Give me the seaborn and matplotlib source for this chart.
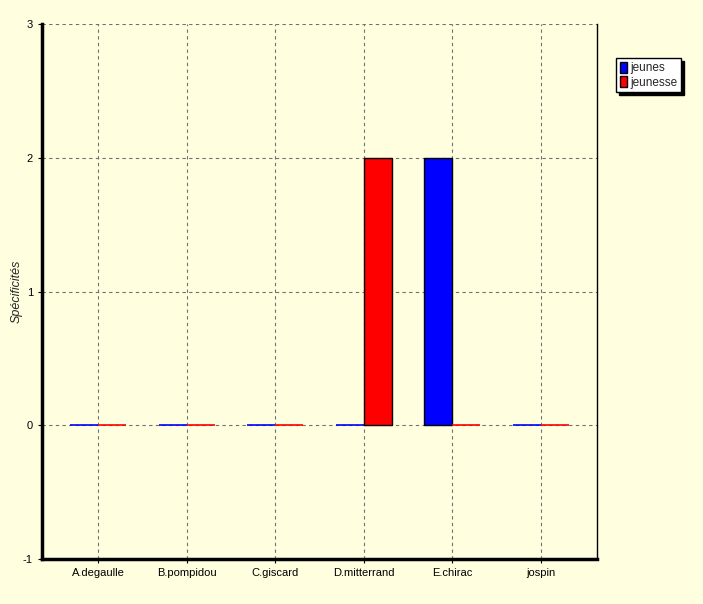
import pandas as pd
import seaborn as sns
import matplotlib.pyplot as plt
from matplotlib.patches import Patch

# data
auteurs = ['A.degaulle', 'B.pompidou', 'C.giscard', 'D.mitterrand', 'E.chirac', 'jospin']
jeunes = [0, 0, 0, 0, 2, 0]
jeunesse = [0, 0, 0, 2, 0, 0]
series = ['jeunes', 'jeunesse']
couleurs = ['#0000ff', '#ff0000']

df = pd.DataFrame({'auteur': auteurs * 2,
                   'mot': ['jeunes'] * len(auteurs) + ['jeunesse'] * len(auteurs),
                   'val': jeunes + jeunesse})

sns.set_style('white')
plt.rcParams['font.family'] = ['Liberation Sans', 'DejaVu Sans']
plt.rcParams['axes.unicode_minus'] = False

bg = '#ffffe0'
fig = plt.figure(figsize=(7.03, 6.04), dpi=100, facecolor=bg)
ax = fig.add_axes([42 / 703, 45 / 604, 555 / 703, 535 / 604])
ax.set_facecolor(bg)

sns.barplot(data=df, x='auteur', y='val', hue='mot', palette=couleurs, saturation=1,
            width=0.632, edgecolor='black', linewidth=1, legend=False, ax=ax)

# zero bars show as coloured lines
for p in ax.patches:
    if p.get_height() == 0:
        p.set_edgecolor(p.get_facecolor())
        p.set_linewidth(1.2)

ax.set_xlim(-0.632, 5.632)
ax.set_ylim(-1, 3)
ax.set_yticks([-1, 0, 1, 2, 3])
ax.grid(True, linestyle=(0, (3, 3)), color='#707070', linewidth=0.8)
ax.set_axisbelow(True)

for s in ['left', 'bottom']:
    ax.spines[s].set_linewidth(2.5)
    ax.spines[s].set_color('black')
ax.spines['right'].set_linewidth(1)
ax.spines['right'].set_color('black')
ax.spines['top'].set_visible(False)

ax.tick_params(axis='both', labelsize=8, length=3, direction='out', left=True, bottom=True, colors='black')
ax.set_xlabel('')
ax.set_ylabel('Spécificités', fontsize=9, style='italic')
ax.yaxis.set_label_coords(-19 / 555, 0.5)

handles = [Patch(facecolor=c, edgecolor='black', label=s) for c, s in zip(couleurs, series)]
leg = fig.legend(handles=handles, loc='upper left', bbox_to_anchor=(616 / 703, 1 - 58 / 604),
                 fontsize=8.5, frameon=True, fancybox=False,
                 shadow={'color': 'black', 'alpha': 1},
                 handlelength=0.6, handleheight=1.1, handletextpad=0.3,
                 borderpad=0.3, labelspacing=0.15, borderaxespad=0)
leg.get_frame().set_edgecolor('black')
leg.get_frame().set_facecolor('white')

fig.savefig('out.png', dpi=100, facecolor=bg)
